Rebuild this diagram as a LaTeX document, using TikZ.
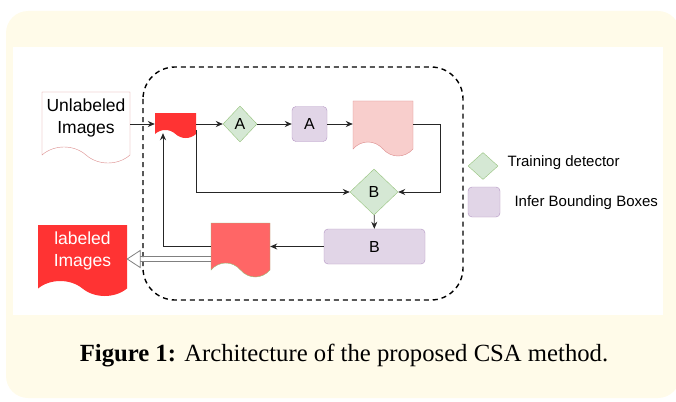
\documentclass[tikz,border=0pt]{standalone}
\usepackage{fontspec}
\setmainfont{Liberation Serif}
\setsansfont{Liberation Sans}
\usetikzlibrary{arrows.meta,positioning,shapes.geometric,shapes.symbols}

\definecolor{bgyellow}{RGB}{255,251,233}
\definecolor{trainfill}{RGB}{213,232,212}
\definecolor{trainline}{RGB}{150,195,125}
\definecolor{inferfill}{RGB}{225,213,231}
\definecolor{inferline}{RGB}{180,150,195}
\definecolor{pinkfill}{RGB}{248,206,204}
\definecolor{pinkline}{RGB}{220,140,140}
\definecolor{redfill}{RGB}{255,51,51}
\definecolor{salmon}{RGB}{255,102,102}

\begin{document}
\begin{tikzpicture}[x=1pt,y=-1pt,>={Stealth[length=7pt,width=6pt]},
  font=\sffamily\color{black!85},
  doc/.style={tape,tape bend top=none,tape bend bottom=out and in,
    tape bend height=14pt,inner sep=0pt,align=center},
  train/.style={diamond,draw=trainline,fill=trainfill,inner sep=0pt},
  infer/.style={draw=inferline,fill=inferfill,rounded corners=4pt,inner sep=0pt},
  flow/.style={->,draw=black!85,line width=0.8pt},
  hollow/.style={draw=gray,line width=0.8pt}]

\useasboundingbox (0,0) rectangle (676,401);
\fill[bgyellow,rounded corners=22pt] (6,11) rectangle (680,398);
\fill[white] (13,47) rectangle (663,315);

% main loop
\draw[dashed,dash pattern=on 5pt off 4pt,line width=1.4pt,rounded corners=32pt]
  (143,67) rectangle (463,300);

\node[doc,draw=pinkline,fill=white,tape bend height=16pt,minimum width=88pt,minimum height=71pt,
  text depth=7pt,font=\sffamily\fontsize{17.5}{22}\selectfont] (unl) at (86,119.5) {Unlabeled\\Images};
\node[doc,fill=redfill,tape bend height=8pt,minimum width=41pt,minimum height=25pt]
  (reddoc) at (175.5,121.5) {};
\node[train,minimum width=34pt,minimum height=36pt,font=\sffamily\fontsize{16}{18}\selectfont]
  (diamA) at (240,124) {A};
\node[infer,minimum size=35pt,font=\sffamily\fontsize{16}{18}\selectfont]
  (boxA) at (309.5,124) {A};
\node[doc,draw=pinkline,fill=pinkfill,minimum width=60pt,minimum height=55pt]
  (pink) at (383,121.5) {};

\node[train,minimum width=48pt,minimum height=46pt,font=\sffamily\fontsize{16}{18}\selectfont]
  (diamB) at (374,192) {B};
\node[infer,minimum width=101pt,minimum height=35pt,font=\sffamily\fontsize{16}{18}\selectfont]
  (boxB) at (374.5,246.5) {B};
\node[doc,draw=trainline,fill=salmon,minimum width=59pt,minimum height=54pt]
  (red2) at (240.5,243) {};
\node[doc,fill=redfill,tape bend height=15pt,minimum width=89pt,minimum height=71pt,
  text depth=7pt,text=white,font=\sffamily\fontsize{17.5}{22}\selectfont]
  (lab) at (82.5,253) {labeled\\Images};
\coordinate (labtip) at ([yshift=-6pt]lab.east);
\coordinate (hstart) at (red2.west |- labtip);
\coordinate (hback) at ([xshift=13pt]labtip);

% legend
\node[train,minimum width=30pt,minimum height=27pt] (legtrain) at (483,166) {};
\node[anchor=west,font=\sffamily\fontsize{15}{18}\selectfont] (legtraintxt) at (504,163) {Training detector};
\node[infer,minimum width=32pt,minimum height=30pt] (leginfer) at (484,202) {};
\node[anchor=west,font=\sffamily\fontsize{15}{18}\selectfont] (leginfertxt) at (511,203) {Infer Bounding Boxes};

% connectors
\draw[flow] (unl.east |- diamA) -- (reddoc.west |- diamA);
\draw[flow] (reddoc.east |- diamA) -- (diamA);
\draw[flow] (diamA) -- (boxA);
\draw[flow] (boxA) -- (boxA -| pink.west);
\draw[flow] (boxA -| pink.east) -- ++(27,0) |- (diamB.east);
\draw[flow] (reddoc.east |- reddoc.south) |- (diamB.west);
\draw[flow] (diamB) -- (boxB);
\draw[flow] (boxB) -- (boxB -| red2.east);
\draw[flow] (boxB -| red2.west) -| ([xshift=-12.5pt,yshift=-3pt]reddoc.south);

% hollow arrow to the output
\draw[hollow] ([yshift=2.2pt]hstart) -- ([yshift=2.2pt]hback);
\draw[hollow] ([yshift=-2.2pt]hstart) -- ([yshift=-2.2pt]hback);
\draw[hollow,fill=white,line join=miter] (labtip) -- ([yshift=8.5pt]hback)
  -- ([yshift=-8.5pt]hback) -- cycle;

\node[anchor=base,font=\fontsize{24.7}{28}\selectfont] (caption) at (344,361.7)
  {\textbf{Figure 1:} Architecture of the proposed CSA method.};
\end{tikzpicture}
\end{document}
